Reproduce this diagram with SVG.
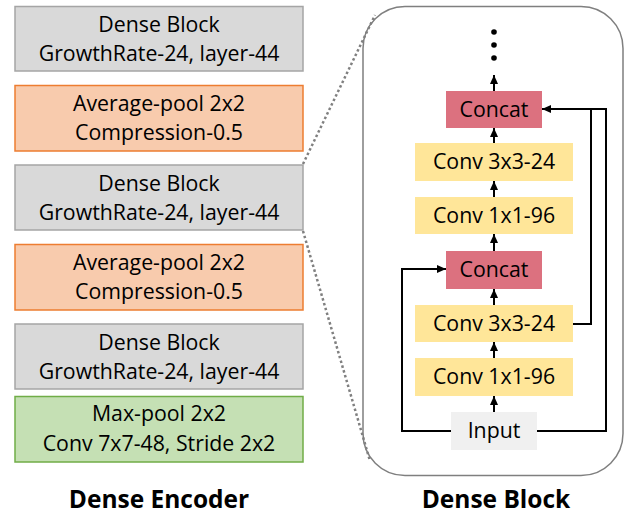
<svg xmlns="http://www.w3.org/2000/svg" width="630" height="516" viewBox="0 0 630 516">
<defs>
<style>
text{font-family:"Open Sans","Noto Sans",sans-serif;font-size:21.3px;fill:#000;text-anchor:middle}
.title{font-weight:bold;font-size:24.5px}
.gray{fill:#D9D9D9;stroke:#A5A5A5;stroke-width:1.5}
.orange{fill:#F8CBAD;stroke:#ED7D31;stroke-width:1.5}
.green{fill:#C5E0B4;stroke:#70AD47;stroke-width:1.5}
.yellow{fill:#FFE699}
.concat{fill:#DC717F}
.input{fill:#F0F0F0}
.line{fill:none;stroke:#000;stroke-width:2}
.dot{fill:none;stroke:#808080;stroke-width:2.5;stroke-dasharray:2.5 2.5}
</style>
<marker id="ah" markerUnits="userSpaceOnUse" markerWidth="10" markerHeight="10" viewBox="0 0 10 10" refX="9" refY="5" orient="auto">
<path d="M0,1 L9,5 L0,9 Z" fill="#000"/>
</marker>
</defs>

<g id="enc-dense1"><rect class="gray" x="15" y="6.5" width="288" height="64.5"/><text x="159" y="32">Dense Block</text><text x="159" y="61">GrowthRate-24, layer-44</text></g>
<g id="enc-avg1"><rect class="orange" x="15" y="85.5" width="288" height="65.5"/><text x="159" y="111">Average-pool 2x2</text><text x="159" y="140">Compression-0.5</text></g>
<g id="enc-dense2"><rect class="gray" x="15" y="165" width="288" height="65"/><text x="159" y="191">Dense Block</text><text x="159" y="220">GrowthRate-24, layer-44</text></g>
<g id="enc-avg2"><rect class="orange" x="15" y="244.5" width="288" height="65.5"/><text x="159" y="270">Average-pool 2x2</text><text x="159" y="299">Compression-0.5</text></g>
<g id="enc-dense3"><rect class="gray" x="15" y="324" width="288" height="65"/><text x="159" y="350">Dense Block</text><text x="159" y="379">GrowthRate-24, layer-44</text></g>
<g id="enc-stem"><rect class="green" x="15" y="396.5" width="288" height="65.5"/><text x="159" y="421">Max-pool 2x2</text><text x="159" y="451">Conv 7x7-48, Stride 2x2</text></g>
<text class="title" x="159" y="508">Dense Encoder</text>

<g id="block-frame"><rect x="363" y="6.5" width="260" height="469" rx="42" ry="42" fill="#fff" stroke="#7F7F7F" stroke-width="1.5"/></g>

<g id="zoom-lines">
<line class="dot" x1="303" y1="164" x2="375" y2="15"/>
<line class="dot" x1="303" y1="231" x2="370" y2="461"/>
</g>

<g id="dots"><circle cx="494" cy="32" r="2.8"/><circle cx="494" cy="45" r="2.8"/><circle cx="494" cy="58" r="2.8"/></g>

<g id="concat1"><rect class="concat" x="446" y="91" width="96" height="37"/><text x="494" y="117">Concat</text></g>
<g id="conv3a"><rect class="yellow" x="415" y="143" width="158" height="38"/><text x="494" y="169">Conv 3x3-24</text></g>
<g id="conv1a"><rect class="yellow" x="415" y="197" width="158" height="37"/><text x="494" y="223">Conv 1x1-96</text></g>
<g id="concat2"><rect class="concat" x="446" y="251" width="96" height="38"/><text x="494" y="277">Concat</text></g>
<g id="conv3b"><rect class="yellow" x="415" y="305" width="158" height="37"/><text x="494" y="331">Conv 3x3-24</text></g>
<g id="conv1b"><rect class="yellow" x="415" y="358" width="158" height="38"/><text x="494" y="384">Conv 1x1-96</text></g>
<g id="input"><rect class="input" x="451" y="412" width="86" height="38"/><text x="494" y="438">Input</text></g>
<text class="title" x="496" y="508">Dense Block</text>

<g id="connectors">
<line class="line" x1="494" y1="91" x2="494" y2="75" marker-end="url(#ah)"/>
<line class="line" x1="494" y1="143" x2="494" y2="128" marker-end="url(#ah)"/>
<line class="line" x1="494" y1="197" x2="494" y2="181" marker-end="url(#ah)"/>
<line class="line" x1="494" y1="251" x2="494" y2="234" marker-end="url(#ah)"/>
<line class="line" x1="494" y1="305" x2="494" y2="289" marker-end="url(#ah)"/>
<line class="line" x1="494" y1="358" x2="494" y2="342" marker-end="url(#ah)"/>
<line class="line" x1="494" y1="412" x2="494" y2="396" marker-end="url(#ah)"/>
<polyline class="line" points="451,431 402,431 402,269 446,269" marker-end="url(#ah)"/>
<polyline class="line" points="537,431 606,431 606,109 542,109" marker-end="url(#ah)"/>
<polyline class="line" points="573,324 591,324 591,109"/>
</g>
</svg>
